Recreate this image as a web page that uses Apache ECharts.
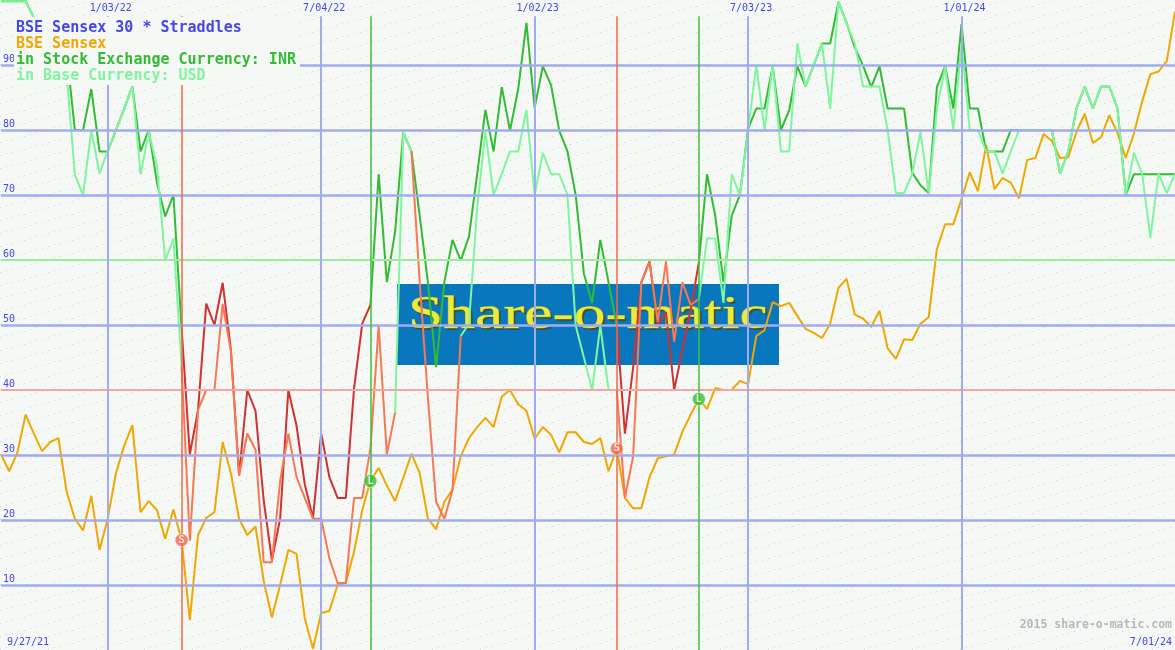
<!DOCTYPE html>
<html><head><meta charset="utf-8">
<script src="https://cdn.jsdelivr.net/npm/echarts@6/dist/echarts.min.js"></script>
<style>html,body{margin:0;padding:0;background:#f5f8f5}#c{width:1175px;height:650px}</style>
</head><body><div id="c"></div>
<script>
// ---------- data (weekly, first point 2021-10-04) ----------
const firstWeek = '2021-10-04';
const lastWeek = '2024-07-01';
const sensex = [30.1,27.5,30.4,36.2,33.3,30.6,32.0,32.6,24.3,20.2,
 18.4,23.7,15.4,20.2,27.2,31.4,34.6,21.2,22.9,21.5,
 17.1,21.6,16.9,4.6,17.7,20.3,21.2,32.0,27.2,20.2,
 17.7,19.0,10.6,5.0,10.0,15.4,14.8,4.9,0.2,5.7,
 6.0,10.0,10.3,15.1,21.5,26.0,28.0,25.3,22.9,26.5,
 30.2,27.2,20.2,18.6,22.8,24.7,29.8,32.6,34.3,35.7,
 34.3,39.0,40.0,37.8,36.8,32.5,34.3,33.1,30.4,33.5,
 33.5,32.0,31.7,32.6,27.5,31.0,23.4,21.8,21.8,26.6,
 29.5,29.8,30.1,33.6,36.2,38.6,37.1,40.3,40.0,40.0,
 41.4,40.9,48.3,49.2,53.5,52.9,53.4,51.4,49.4,48.8,
 48.0,50.2,55.7,57.1,51.6,51.0,49.7,52.2,46.4,44.8,
 47.8,47.7,50.2,51.2,61.7,65.5,65.5,69.4,73.5,70.6,
 77.7,70.9,72.6,71.9,69.5,75.4,75.7,79.4,78.3,75.7,
 75.8,79.7,82.5,78.0,78.9,82.3,79.5,75.7,79.5,84.4,
 88.6,89.0,90.6,98.2];
const straddleINR = [99.8,99.8,99.8,99.8,97.3,94,92,95,91.8,80,
 80,86.3,76.7,76.7,80,83.3,86.7,76.7,80,71.9,
 66.7,70,49.5,30.1,36.9,53.3,50,56.5,46.2,26.9,
 40,36.8,23,13.8,20.2,40,34.5,25.5,20.3,33.3,
 26.6,23.4,23.4,40.2,50.2,53.1,73.2,56.6,64.3,79.6,
 76.7,66.8,56.6,43.5,56.6,63.1,59.9,63.6,73.2,83.1,
 76.7,86.6,79.9,86.3,96.5,83.4,89.8,86.9,79.9,76.7,
 70,57.9,53.4,63.1,56.6,49.9,33.3,43.5,56.6,59.8,
 49.9,52,40,46.2,52.3,59.6,73.2,66.8,56.6,66.8,
 70,80.2,83.3,83.3,89.8,80,83,89.8,86.7,90,
 93.3,93.3,99.7,96.5,92.7,89.9,86.6,89.8,83.3,83.3,
 83.3,73.4,71.5,70.3,86.6,89.8,83.3,96.3,83.3,83.3,
 76.7,76.7,76.7,80,80,80,80,80,80,73.3,
 76.7,83.3,86.7,83.3,86.7,86.7,83.3,70,73.2,73.2,
 73.2,73.2,73.2,73.2];
const straddleUSD = [99.8,99.8,99.8,99.8,97.3,93,90,92,88.5,73.1,
 70,80,73.3,76.8,80,83.3,86.7,73.2,79.7,74.5,
 59.9,63.3,43.5,16.8,36.9,40,40,53.2,46,26.8,
 33.3,30.8,13.5,13.5,26,33.3,26.6,23.4,20.2,20.2,
 14.1,10.3,10.3,23.4,23.4,31,49.9,30.1,36.5,79.7,
 76.7,56.6,38.8,22.8,20.2,24.6,48.3,50.2,68,79.7,
 70,73.2,76.7,76.7,83.1,70,76.5,73.2,73.2,70,
 49.9,45,40,49.9,40,40,23.4,29.8,56.6,59.8,
 50.5,59.8,47.4,56.6,53.1,54,63.3,63.3,53.4,73.2,
 70,79.9,90,80,90,76.7,76.7,93.3,86.7,90,
 93.3,83.3,99.7,96.4,93.3,86.7,86.7,86.7,80,70.3,
 70.3,73.3,79.7,70.3,83.3,89.7,80,93.3,80,80,
 76.7,76.7,73.3,76.7,80,80,80,80,80,73.3,
 76.7,83.3,86.7,83.3,86.7,86.7,83.3,70,76.5,73.3,
 63.4,73.3,70.3,73.3];
// short (red) periods, as week numbers (1 = first week)
const shortINR = [[23,46],[76,86]];
const shortUSD = [[23,49],[51,57],[76,86]];
const signalWeeks = [23,46,76,86];
const signalTypes = ['S','L','S','L'];
const gridDates = ['2022-01-03','2022-07-04','2023-01-02','2023-07-03','2024-01-01'];
const gridDateLabels = ['1/03/22','7/04/22','1/02/23','7/03/23','1/01/24'];
const yLines = [10,20,30,40,50,60,70,80,90];
const startLabel = '9/27/21';
const endLabel = '7/01/24';
const legendLines = ['BSE Sensex 30 * Straddles','BSE Sensex','in Stock Exchange Currency: INR','in Base Currency: USD'];
const copyright = '2015 share-o-matic.com';
const watermark = 'Share-o-matic';

// ---------- helpers ----------
const DAY = 86400000;
function ts(s){const [y,m,d]=s.split('-').map(Number);return Date.UTC(y,m-1,d);}
const t0 = ts(firstWeek);
const weekDates = sensex.map((_,i)=>t0 + i*7*DAY);
const inside = (k,r)=>r.some(([a,b])=>k>a&&k<b);
const within = (k,r)=>r.some(([a,b])=>k>=a&&k<=b);
function part(arr, ranges, isShort){
  return arr.map((v,i)=>{const k=i+1; const keep = isShort?within(k,ranges):!inside(k,ranges); return [weekDates[i], keep?v:null];});
}
const C = {blue:'#a0acee', red:'#f2a6a6', green:'#a0e8a0', text:'#4646ee', orange:'#f0a800',
  inrG:'#33bb33', inrR:'#d03232', usdG:'#80f5a0', usdR:'#f87852', bg:'#f5f8f5'};
const FONT = '"DejaVu Sans Mono", monospace';

// background texture
const pat = document.createElement('canvas'); pat.width = 48; pat.height = 13;
const pc = pat.getContext('2d');
for (let x=0,j=0;x<48;x+=6,j++){ pc.fillStyle = j%2? '#bedbe6':'#bfe4c4'; pc.fillRect(x, Math.round(12 - x*13/48), 1, 1); }

const hLines = yLines.map(v=>({yAxis:v, lineStyle:{type:'solid', color: v===40?C.red:(v===60?C.green:C.blue), width: v===40||v===60?2:2.5}}));
const vLines = gridDates.map((d,i)=>[
  {xAxis: ts(d), yAxis: 97.5, lineStyle:{type:'solid', color:C.blue,width:2}, label:{show:true, position:'start', formatter: gridDateLabels[i], color:C.text, fontSize:10, fontFamily:FONT, distance:3, offset:[3,0]}},
  {xAxis: ts(d), yAxis: 0}
]);
const sLines = signalWeeks.map((k,i)=>[
  {xAxis: weekDates[k-1], yAxis: 97.5, lineStyle:{type:'solid', color: signalTypes[i]==='S'?'#f06848':'#3cc03c', width:1.5}},
  {xAxis: weekDates[k-1], yAxis: 0}
]);

const chart = echarts.init(document.getElementById('c'));
const lineBase = {type:'line', showSymbol:false, symbol:'none', connectNulls:false, animation:false, silent:true};
chart.setOption({
  animation:false,
  backgroundColor: C.bg,
  grid:{left:0,right:0,top:0,bottom:0},
  xAxis:{type:'time', min: ts(firstWeek), max: ts(lastWeek), axisLine:{show:false}, axisTick:{show:false}, axisLabel:{show:false}, splitLine:{show:false}},
  yAxis:{type:'value', min:0, max:100, interval:10, axisLine:{show:false}, axisTick:{show:false}, splitLine:{show:false},
    axisLabel:{inside:true, margin:2, color:C.text, fontSize:10, fontFamily:FONT, verticalAlign:'bottom', padding:[0,0,1,0],
      formatter:v=> (v>0&&v<100)?String(v):''}},
  graphic:{elements:[
    {type:'rect', z:-3, silent:true, shape:{x:0,y:0,width:1175,height:650}, style:{fill:{image:pat, repeat:'repeat'}}},
    {type:'rect', z:-2, silent:true, shape:{x:397,y:284,width:382,height:81}, style:{fill:'#0877be'}},
    {type:'text', z:-1, silent:true, x:410, y:318, scaleX:1.38,
      style:{text:watermark, x:0, y:0, font:'46px "Liberation Serif", serif', verticalAlign:'middle', align:'left', fill:'#4a4a10', opacity:0.8}},
    {type:'text', z:-1, silent:true, x:408, y:316, scaleX:1.38,
      style:{text:watermark, x:0, y:0, font:'46px "Liberation Serif", serif', verticalAlign:'middle', align:'left',
        fill:'#ecea3a', stroke:'#b8b228', lineWidth:0.6}},
    {type:'rect', z:20, silent:true, shape:{x:14,y:17,width:286,height:68}, style:{fill:C.bg}},
    ...legendLines.map((t,i)=>({type:'text', z:21, silent:true, style:{text:t, x:16, y:28+16*i, font:'bold 15px '+FONT, verticalAlign:'middle',
      fill:[C.text, C.orange, C.inrG, C.usdG][i]}})),
    {type:'text', z:21, silent:true, style:{text:copyright, x:1172, y:625, font:'bold 11.5px '+FONT, align:'right', verticalAlign:'middle', fill:'#b8b8b8'}},
    {type:'text', z:21, silent:true, style:{text:startLabel, x:7, y:642, font:'10px '+FONT, align:'left', verticalAlign:'middle', fill:C.text}},
    {type:'text', z:21, silent:true, style:{text:endLabel, x:1172, y:642, font:'10px '+FONT, align:'right', verticalAlign:'middle', fill:C.text}}
  ]},
  series:[
    {...lineBase, name:'grid', z:1, data:[],
      markLine:{silent:true, animation:false, symbol:['none','none'], label:{show:false}, lineStyle:{type:'solid'},
        data:[...hLines, ...vLines, ...sLines]}},
    {...lineBase, name:'BSE Sensex', z:2, data: weekDates.map((t,i)=>[t,sensex[i]]), lineStyle:{color:C.orange,width:2}},
    {...lineBase, name:'INR', z:3, data: part(straddleINR, shortINR, false), lineStyle:{color:C.inrG,width:2}},
    {...lineBase, name:'INR short', z:3, data: part(straddleINR, shortINR, true), lineStyle:{color:C.inrR,width:2}},
    {...lineBase, name:'USD', z:4, data: part(straddleUSD, shortUSD, false), lineStyle:{color:C.usdG,width:2}},
    {...lineBase, name:'USD short', z:4, data: part(straddleUSD, shortUSD, true), lineStyle:{color:C.usdR,width:2}},
    {type:'scatter', z:6, silent:true, animation:false, symbol:'circle', symbolSize:13,
      data: signalWeeks.map((k,i)=>({value:[weekDates[k-1], sensex[k-1]], itemStyle:{color: signalTypes[i]==='S'?'#f06a50':'#30c030', borderColor:'rgba(255,255,255,0.6)', borderWidth:1},
        label:{show:true, position:'inside', formatter: signalTypes[i], color:'#ffffff', fontSize:10, fontWeight:'bold', fontFamily:FONT}}))}
  ]
});
</script></body></html>
